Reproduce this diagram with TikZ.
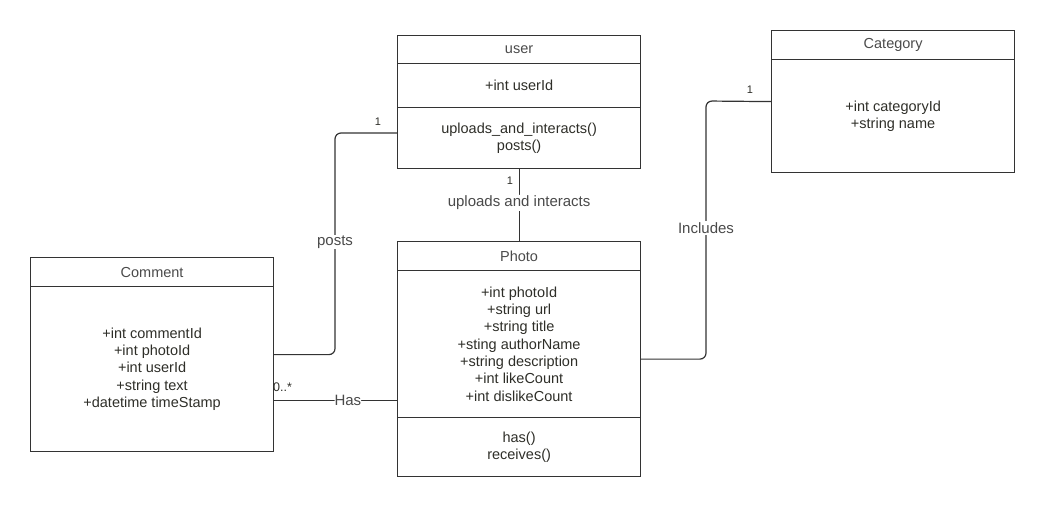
\documentclass[tikz,border=0pt]{standalone}
\usepackage{fontspec}
\setmainfont{Liberation Sans}
\usepackage{tikz}
\usetikzlibrary{shapes.multipart,positioning}
\definecolor{umlline}{HTML}{333333}
\definecolor{umltext}{HTML}{2E2E28}
\definecolor{umltitle}{HTML}{4A4A4A}
\newcommand{\classpart}[2]{\parbox[c][#1pt][c]{243pt}{\centering #2}}

\begin{document}
\begin{tikzpicture}[x=1pt,y=-1pt]
\tikzstyle{umlclass}=[rectangle split,draw=umlline,line width=1.2pt,inner sep=0pt,anchor=north west,text=umltext,font=\fontsize{14.5}{17.3}\selectfont]
\tikzstyle{assoc}=[draw=umlline,line width=1.2pt,rounded corners=6pt]
\tikzstyle{rolename}=[fill=white,text=umltitle,inner sep=1pt,font=\fontsize{15}{18}\selectfont]
\tikzstyle{mult}=[text=umltext,inner sep=0pt,font=\fontsize{11}{12}\selectfont]
\useasboundingbox (0,0) rectangle (1045,514);
\node[umlclass,rectangle split parts=3] (user) at (397,35)
{\classpart{26.8}{\color{umltitle}user}
\nodepart{two} \classpart{42.8}{+int userId}
\nodepart{three} \classpart{59.8}{uploads\_and\_interacts()\\posts()}};
\node[umlclass,rectangle split parts=3] (photo) at (397,241)
{\classpart{27.8}{\color{umltitle}Photo}
\nodepart{two} \classpart{145.8}{+int photoId\\+string url\\+string title\\+sting authorName\\+string description\\+int likeCount\\+int dislikeCount}
\nodepart{three} \classpart{57.8}{has()\\receives()}};
\node[umlclass,rectangle split parts=2] (comment) at (30,257)
{\classpart{27.8}{\color{umltitle}Comment}
\nodepart{two} \classpart{163.8}{+int commentId\\+int photoId\\+int userId\\+string text\\+datetime timeStamp}};
\node[umlclass,rectangle split parts=2] (category) at (771,30)
{\classpart{27.8}{\color{umltitle}Category}
\nodepart{two} \classpart{111.8}{+int categoryId\\+string name}};
\coordinate (postsbend) at (335,133);
\draw[assoc] (comment.east) -| (postsbend) -- (postsbend -| user.west);
\node[rolename] (postslabel) at (335,242) {posts};
\node[mult] (postsmult) at (378,122) {1};
\draw[assoc] (user.south) -- node[rolename,pos=0.47] (uploadslabel) {uploads and interacts} (photo.north);
\node[mult] (uploadsmult) at (510,181) {1};
\coordinate (hasend) at ([yshift=17pt]photo.two split west);
\draw[assoc] (hasend -| comment.east) -- node[rolename,pos=0.6,inner sep=0pt] (haslabel) {Has} (hasend);
\node[mult,anchor=west,font=\fontsize{12.5}{14}\selectfont] (hasmult) at (273,387) {0..*};
\coordinate (includesbend) at (706,101);
\draw[assoc] (photo.east) -| (includesbend) -- (category.west);
\node[rolename] (includeslabel) at (706,228) {Includes};
\node[mult] (includesmult) at (750,90) {1};
\end{tikzpicture}
\end{document}
